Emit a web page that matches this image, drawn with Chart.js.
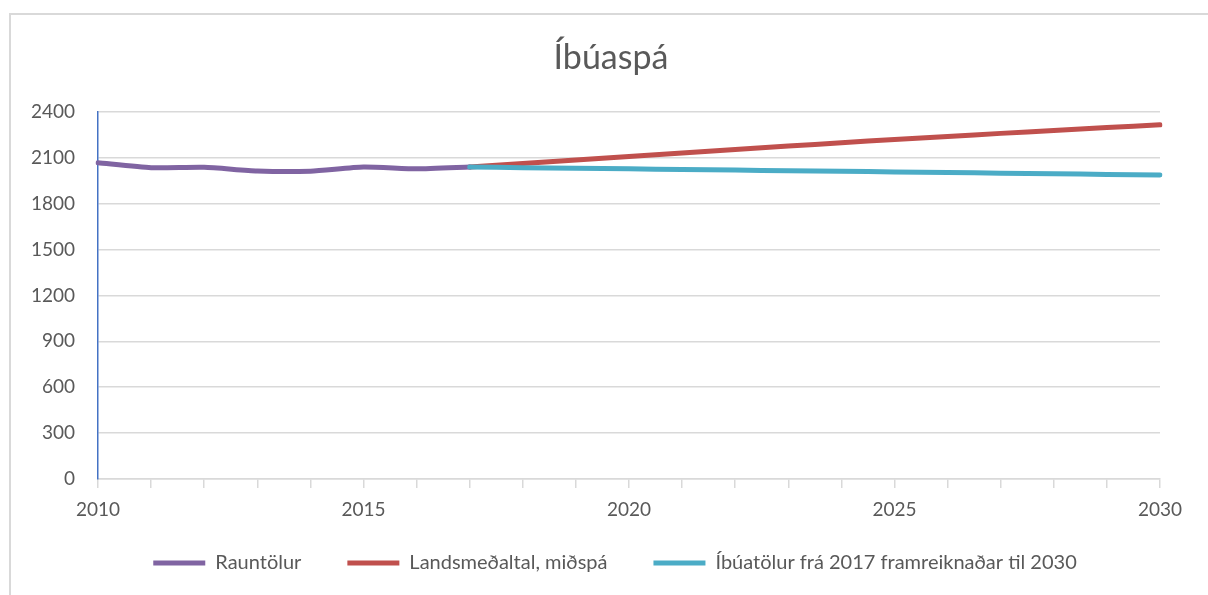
<!DOCTYPE html>
<html>
<head>
<meta charset="utf-8">
<script src="https://cdn.jsdelivr.net/npm/chart.js@4.4.1/dist/chart.umd.min.js"></script>
<style>
  html, body { margin: 0; padding: 0; background: #fff; }
  #wrap { position: relative; width: 1208px; height: 595px; overflow: hidden; }
  #frame { position: absolute; left: 9px; top: 13px; width: 1300px; height: 700px;
           border-left: 2px solid #d9d9d9; border-top: 2px solid #d9d9d9; pointer-events: none; }
  canvas { position: absolute; left: 0; top: 0; }
</style>
</head>
<body>
<div id="wrap">
  <canvas id="c" width="1208" height="595"></canvas>
  <div id="frame"></div>
</div>
<script>
const title = 'Íbúaspá';
const years = [2010, 2011, 2012, 2013, 2014, 2015, 2016, 2017, 2018, 2019, 2020,
               2021, 2022, 2023, 2024, 2025, 2026, 2027, 2028, 2029, 2030];
const yTicks = [0, 300, 600, 900, 1200, 1500, 1800, 2100, 2400];

const rauntolurName = 'Rauntölur';
const rauntolurYears = [2010, 2011, 2012, 2013, 2014, 2015, 2016, 2017];
const rauntolur = [2067, 2035, 2037, 2013, 2012, 2039, 2027, 2039];

const landsName = 'Landsmeðaltal, miðspá';
const spaYears = [2017, 2018, 2019, 2020, 2021, 2022, 2023, 2024, 2025, 2026, 2027, 2028, 2029, 2030];
const landsmedaltal = [2039, 2062, 2085, 2108, 2131, 2154, 2176, 2198, 2219, 2239, 2259, 2278, 2297, 2315];

const ibuaName = 'Íbúatölur frá 2017 framreiknaðar til 2030';
const ibuatolur = [2039, 2035, 2031, 2027, 2023, 2019, 2015, 2011, 2007, 2003, 1999, 1995, 1991, 1987];

function align(srcYears, vals) {
  return years.map(y => { const i = srcYears.indexOf(y); return i >= 0 ? vals[i] : null; });
}

const FONT = 'Lato, "Open Sans", sans-serif';
const TXT = '#595959';
const GRID = '#d9d9d9';

const placeBoxes = {
  id: 'placeBoxes',
  beforeInit(chart) {
    const lg = chart.legend;
    if (lg && !lg._patched) {
      const orig = lg.fit;
      lg.fit = function () { orig.call(this); this.height = 74; };
      lg._patched = true;
    }
  },
  afterLayout(chart) {
    const lg = chart.legend;
    if (lg) { lg.top = 507; lg.bottom = 581; lg.left = 70; lg.right = 1160; }
    const tb = chart.titleBlock;
    if (tb) { tb.left = 62; tb.right = 1160; }
  }
};

new Chart(document.getElementById('c'), {
  type: 'line',
  data: {
    labels: years,
    datasets: [
      { label: rauntolurName, data: align(rauntolurYears, rauntolur), borderColor: '#8064A2', backgroundColor: '#8064A2',
        borderWidth: 5, pointRadius: 0, tension: 0.2, borderCapStyle: 'round', borderJoinStyle: 'round', order: 1 },
      { label: landsName, data: align(spaYears, landsmedaltal), borderColor: '#C0504D', backgroundColor: '#C0504D',
        borderWidth: 5, pointRadius: 0, tension: 0.2, borderCapStyle: 'round', borderJoinStyle: 'round', order: 2 },
      { label: ibuaName, data: align(spaYears, ibuatolur), borderColor: '#4BACC6', backgroundColor: '#4BACC6',
        borderWidth: 5, pointRadius: 0, tension: 0.2, borderCapStyle: 'round', borderJoinStyle: 'round', order: 0 }
    ]
  },
  options: {
    responsive: false,
    animation: false,
    layout: { padding: { left: 20, right: 48, top: 0, bottom: 0 } },
    plugins: {
      title: { display: true, text: title, color: TXT, font: { family: FONT, size: 34, weight: 'normal' },
               padding: { top: 38, bottom: 33 } },
      legend: {
        position: 'bottom',
        labels: {
          usePointStyle: true, pointStyle: 'line', pointStyleWidth: 52,
          color: TXT, font: { family: FONT, size: 20 }, padding: 46,
          sort: (a, b) => a.datasetIndex - b.datasetIndex
        }
      },
      tooltip: { enabled: false }
    },
    scales: {
      x: {
        type: 'category',
        offset: false,
        grid: { display: true, drawOnChartArea: false, drawTicks: true, tickLength: 9, color: GRID, lineWidth: 1.5 },
        border: { display: true, color: GRID, width: 1.5 },
        ticks: { autoSkip: false, maxRotation: 0, padding: 10, color: TXT, font: { family: FONT, size: 19 },
                 callback: function (v, i) { const y = years[i]; return y % 5 === 0 ? String(y) : ''; } },
        afterFit: s => { s.height = 42; }
      },
      y: {
        min: yTicks[0], max: yTicks[yTicks.length - 1],
        afterBuildTicks: s => { s.ticks = yTicks.map(v => ({ value: v })); },
        grid: { color: GRID, lineWidth: 1.5, drawTicks: false },
        border: { display: true, color: '#4472C4', width: 1.5 },
        ticks: { padding: 23, color: TXT, font: { family: FONT, size: 19 }, callback: v => String(v) },
        afterFit: s => { s.width = 78; }
      }
    }
  },
  plugins: [placeBoxes]
});
</script>
</body>
</html>
